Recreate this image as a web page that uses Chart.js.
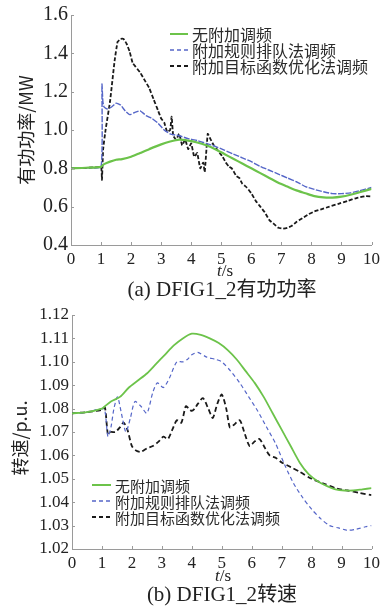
<!DOCTYPE html>
<html>
<head>
<meta charset="utf-8">
<script src="https://cdn.jsdelivr.net/npm/chart.js@4/dist/chart.umd.min.js"></script>
<style>
html,body{margin:0;padding:0;background:#fff;}
body{width:384px;height:608px;position:relative;overflow:hidden;font-family:"Liberation Serif","DejaVu Serif",serif;}
canvas{position:absolute;left:0;}
#c1{top:0;}
#c2{top:295px;}
.lbl{position:absolute;white-space:nowrap;color:#222;transform:translate(-50%,-50%);line-height:1;}
.cjk{font-family:"Noto Sans CJK SC","Liberation Serif",serif;}
</style>
</head>
<body>
<canvas id="c1" width="384" height="265"></canvas>
<canvas id="c2" width="384" height="275"></canvas>
<div class="lbl" style="left:225px;top:270px;font-size:17px;"><i>t</i>/s</div>
<div class="lbl" style="left:222px;top:289px;font-size:21px;">(a) DFIG1_2<span class="cjk" style="font-size:20px">有功功率</span></div>
<div class="lbl" style="left:223px;top:575px;font-size:17px;"><i>t</i>/s</div>
<div class="lbl" style="left:222px;top:594px;font-size:21px;">(b) DFIG1_2<span class="cjk" style="font-size:20px">转速</span></div>
<script>
// ---------- DATA ----------
const seriesLabels = ['无附加调频', '附加规则排队法调频', '附加目标函数优化法调频'];
const xTicks = [0,1,2,3,4,5,6,7,8,9,10];

// (a) Active power, MW
const pTimeGreen = [0,0.5,1.0,1.05,1.1,1.3,1.5,1.7,2.0,2.3,2.6,3.0,3.3,3.6,3.9,4.2,4.5,4.8,5.1,5.4,5.7,6.0,6.3,6.6,6.9,7.2,7.5,7.8,8.1,8.4,8.7,9.0,9.3,9.6,10];
const pGreen     = [0.80,0.803,0.808,0.815,0.822,0.835,0.845,0.848,0.86,0.88,0.90,0.925,0.94,0.95,0.945,0.935,0.92,0.90,0.875,0.85,0.825,0.80,0.775,0.75,0.725,0.705,0.685,0.67,0.655,0.648,0.647,0.652,0.662,0.675,0.693];

const pTimeBlue = [0,0.5,1.0,1.03,1.06,1.1,1.2,1.35,1.5,1.65,1.8,1.95,2.1,2.3,2.5,2.7,2.9,3.1,3.3,3.6,3.9,4.2,4.5,4.8,5.1,5.4,5.7,6.0,6.3,6.6,6.9,7.2,7.5,7.8,8.1,8.4,8.7,9.0,9.3,9.6,10];
const pBlue     = [0.80,0.803,0.808,1.24,1.15,1.12,1.11,1.12,1.14,1.13,1.10,1.08,1.09,1.10,1.075,1.06,1.035,1.0,0.98,0.97,0.955,0.945,0.93,0.915,0.895,0.875,0.855,0.835,0.81,0.79,0.77,0.75,0.73,0.705,0.69,0.678,0.668,0.668,0.672,0.683,0.70];

const pTimeBlack = [0,0.5,1.0,1.03,1.07,1.15,1.3,1.45,1.55,1.65,1.75,1.85,1.95,2.05,2.15,2.3,2.45,2.6,2.75,2.9,3.0,3.1,3.2,3.3,3.35,3.4,3.5,3.6,3.7,3.8,3.9,4.0,4.1,4.2,4.3,4.4,4.45,4.55,4.65,4.75,4.85,4.95,5.05,5.15,5.25,5.35,5.5,5.6,5.7,5.85,6.0,6.15,6.3,6.45,6.6,6.75,6.9,7.05,7.2,7.35,7.5,7.7,7.9,8.1,8.3,8.6,8.9,9.2,9.5,9.8,10];
const pBlack     = [0.80,0.802,0.805,0.74,0.90,1.00,1.15,1.36,1.46,1.475,1.475,1.45,1.41,1.35,1.33,1.30,1.26,1.22,1.16,1.10,1.06,1.04,0.99,1.00,1.07,0.97,0.95,0.98,0.92,0.95,0.90,0.93,0.86,0.88,0.80,0.83,0.78,0.98,0.95,0.92,0.90,0.88,0.86,0.83,0.81,0.80,0.76,0.75,0.72,0.70,0.67,0.63,0.60,0.57,0.53,0.51,0.49,0.485,0.49,0.50,0.52,0.54,0.56,0.575,0.585,0.60,0.615,0.63,0.645,0.655,0.653];

const pYTicks = [0.4,0.6,0.8,1.0,1.2,1.4,1.6];

// (b) Rotor speed, p.u.
const sTimeGreen = [0,0.5,1.0,1.1,1.3,1.6,1.9,2.2,2.5,2.8,3.1,3.4,3.7,4.0,4.3,4.6,4.9,5.2,5.5,5.8,6.1,6.4,6.7,7.0,7.3,7.6,7.9,8.2,8.5,8.8,9.1,9.4,9.7,10];
const sGreen     = [1.078,1.0785,1.080,1.081,1.083,1.085,1.089,1.092,1.095,1.099,1.103,1.107,1.110,1.112,1.1115,1.110,1.108,1.105,1.101,1.096,1.091,1.085,1.078,1.071,1.064,1.057,1.052,1.049,1.047,1.0455,1.045,1.045,1.0455,1.046];

const sTimeBlue = [0,0.5,1.0,1.1,1.2,1.3,1.4,1.52,1.65,1.8,1.95,2.1,2.3,2.5,2.7,2.85,3.05,3.25,3.5,3.7,3.85,4.0,4.2,4.5,4.8,5.0,5.3,5.6,5.9,6.2,6.5,6.8,7.1,7.4,7.7,8.0,8.3,8.6,8.9,9.2,9.5,9.8,10];
const sBlue     = [1.078,1.0785,1.080,1.079,1.068,1.072,1.080,1.085,1.078,1.070,1.076,1.083,1.081,1.078,1.087,1.091,1.089,1.093,1.100,1.100,1.101,1.103,1.104,1.102,1.101,1.100,1.096,1.091,1.085,1.079,1.072,1.065,1.056,1.048,1.042,1.037,1.033,1.030,1.029,1.028,1.0285,1.0295,1.030];

const sTimeBlack = [0,0.5,1.0,1.1,1.2,1.3,1.45,1.6,1.72,1.85,2.0,2.15,2.3,2.5,2.7,2.9,3.05,3.2,3.35,3.5,3.65,3.8,3.9,4.0,4.1,4.2,4.37,4.55,4.7,4.85,5.0,5.15,5.27,5.4,5.6,5.75,5.93,6.1,6.26,6.45,6.6,6.8,7.0,7.3,7.6,8.0,8.4,8.8,9.2,9.6,10];
const sBlack     = [1.078,1.0785,1.0795,1.0805,1.069,1.070,1.070,1.072,1.074,1.071,1.064,1.062,1.0615,1.063,1.064,1.066,1.068,1.067,1.071,1.075,1.074,1.081,1.080,1.079,1.080,1.082,1.0845,1.080,1.076,1.082,1.086,1.080,1.072,1.073,1.075,1.070,1.064,1.066,1.067,1.063,1.060,1.059,1.057,1.055,1.053,1.050,1.048,1.046,1.045,1.044,1.043];

const sYTicks = [1.02,1.03,1.04,1.05,1.06,1.07,1.08,1.09,1.10,1.11,1.12];

// ---------- STYLE ----------
const GREEN = '#6cc34a', BLUE = '#5566c8', BLACK = '#1a1a1a', AXIS = '#9a9a9a';
const pts = (t, v) => t.map((x, i) => ({x, y: v[i]}));

const innerTicks = {
  id: 'innerTicks',
  afterDraw(chart) {
    const {ctx, chartArea: a, scales: {x, y}} = chart;
    ctx.save();
    ctx.strokeStyle = AXIS; ctx.lineWidth = 1;
    ctx.beginPath();
    x.ticks.forEach(t => { const px = Math.round(x.getPixelForValue(t.value)) + 0.5; ctx.moveTo(px, a.bottom); ctx.lineTo(px, a.bottom - 3); });
    y.ticks.forEach(t => { const py = Math.round(y.getPixelForValue(t.value)) + 0.5; ctx.moveTo(a.left, py); ctx.lineTo(a.left + 3, py); });
    ctx.stroke();
    ctx.restore();
  }
};

const innerLegend = {
  id: 'innerLegend',
  afterDraw(chart, args, o) {
    const ctx = chart.ctx;
    ctx.save();
    chart.data.datasets.forEach((d, i) => {
      const yy = o.y + i * o.dy;
      ctx.strokeStyle = d.borderColor;
      ctx.lineWidth = o.lw[i];
      ctx.setLineDash(o.dash[i]);
      ctx.beginPath(); ctx.moveTo(o.x, yy); ctx.lineTo(o.x + o.len, yy); ctx.stroke();
      ctx.setLineDash([]);
      ctx.fillStyle = '#2a2a2a';
      ctx.font = o.font;
      ctx.textBaseline = 'middle';
      ctx.textAlign = 'left';
      ctx.fillText(d.label, o.x + o.len + 4, yy + 1);
    });
    ctx.restore();
  }
};

const yTitle = {
  id: 'yTitle',
  afterDraw(chart, args, o) {
    const ctx = chart.ctx;
    ctx.save();
    ctx.translate(o.x, o.y);
    ctx.rotate(-Math.PI / 2);
    ctx.fillStyle = '#222';
    ctx.font = o.font;
    ctx.textAlign = 'center';
    ctx.textBaseline = 'middle';
    ctx.fillText(o.text, 0, 0);
    ctx.restore();
  }
};

function makeChart(id, cfg) {
  return new Chart(document.getElementById(id), {
    type: 'line',
    data: { datasets: cfg.datasets },
    options: {
      responsive: false,
      animation: false,
      devicePixelRatio: 1,
      layout: { padding: cfg.padding },
      elements: { point: { radius: 0 }, line: { tension: 0.25 } },
      plugins: {
        legend: { display: false },
        tooltip: { enabled: false },
        innerLegend: cfg.legend,
        yTitle: cfg.yTitle
      },
      scales: {
        x: {
          type: 'linear', min: 0, max: 10,
          afterBuildTicks: s => { s.ticks = xTicks.map(v => ({value: v})); },
          afterFit: s => { s.height = cfg.xHeight; },
          grid: { drawOnChartArea: false, drawTicks: false },
          border: { color: AXIS, width: 1 },
          ticks: { padding: cfg.xPad, color: '#222', font: { family: 'Liberation Serif', size: 17 }, callback: v => String(v), maxRotation: 0, autoSkip: false }
        },
        y: {
          type: 'linear', min: cfg.yTicks[0], max: cfg.yTicks[cfg.yTicks.length - 1],
          afterBuildTicks: s => { s.ticks = cfg.yTicks.map(v => ({value: v})); },
          afterFit: s => { s.width = cfg.yWidth; },
          grid: { drawOnChartArea: false, drawTicks: false },
          border: { color: AXIS, width: 1 },
          ticks: { padding: 3, color: '#222', font: { family: 'Liberation Serif', size: cfg.yFont }, callback: v => v.toFixed(cfg.dec), autoSkip: false }
        }
      }
    },
    plugins: [innerTicks, innerLegend, yTitle]
  });
}

makeChart('c1', {
  padding: { top: 12, right: 12, left: 0, bottom: 0 },
  xHeight: 20, xPad: 4, yWidth: 71, yFont: 20, dec: 1, yTicks: pYTicks,
  yTitle: { text: '有功功率/MW', x: 26, y: 130, font: '18px "Noto Sans CJK SC"' },
  legend: { x: 170, y: 34, dy: 16, len: 18, font: '16px "Noto Sans CJK SC"', lw: [2, 1.6, 1.8], dash: [[], [4, 3], [4, 3]] },
  datasets: [
    { label: seriesLabels[0], data: pts(pTimeGreen, pGreen), borderColor: GREEN, borderWidth: 2.2 },
    { label: seriesLabels[1], data: pts(pTimeBlue, pBlue), borderColor: BLUE, borderWidth: 1.4, borderDash: [6, 1.5], tension: 0.15 },
    { label: seriesLabels[2], data: pts(pTimeBlack, pBlack), borderColor: BLACK, borderWidth: 1.8, borderDash: [4, 2], tension: 0.1 }
  ]
});

makeChart('c2', {
  padding: { top: 20, right: 11, left: 0, bottom: 0 },
  xHeight: 21, xPad: 4, yWidth: 72, yFont: 17, dec: 2, yTicks: sYTicks,
  yTitle: { text: '转速/p.u.', x: 20, y: 143, font: '18px "Noto Sans CJK SC"' },
  legend: { x: 92, y: 190, dy: 16, len: 19, font: '15px "Noto Sans CJK SC"', lw: [2, 1.4, 1.8], dash: [[], [4, 3], [4, 3]] },
  datasets: [
    { label: seriesLabels[0], data: pts(sTimeGreen, sGreen), borderColor: GREEN, borderWidth: 1.8 },
    { label: seriesLabels[1], data: pts(sTimeBlue, sBlue), borderColor: BLUE, borderWidth: 1.2, borderDash: [4, 3] },
    { label: seriesLabels[2], data: pts(sTimeBlack, sBlack), borderColor: BLACK, borderWidth: 1.8, borderDash: [5, 3] }
  ]
});
</script>
</body>
</html>
